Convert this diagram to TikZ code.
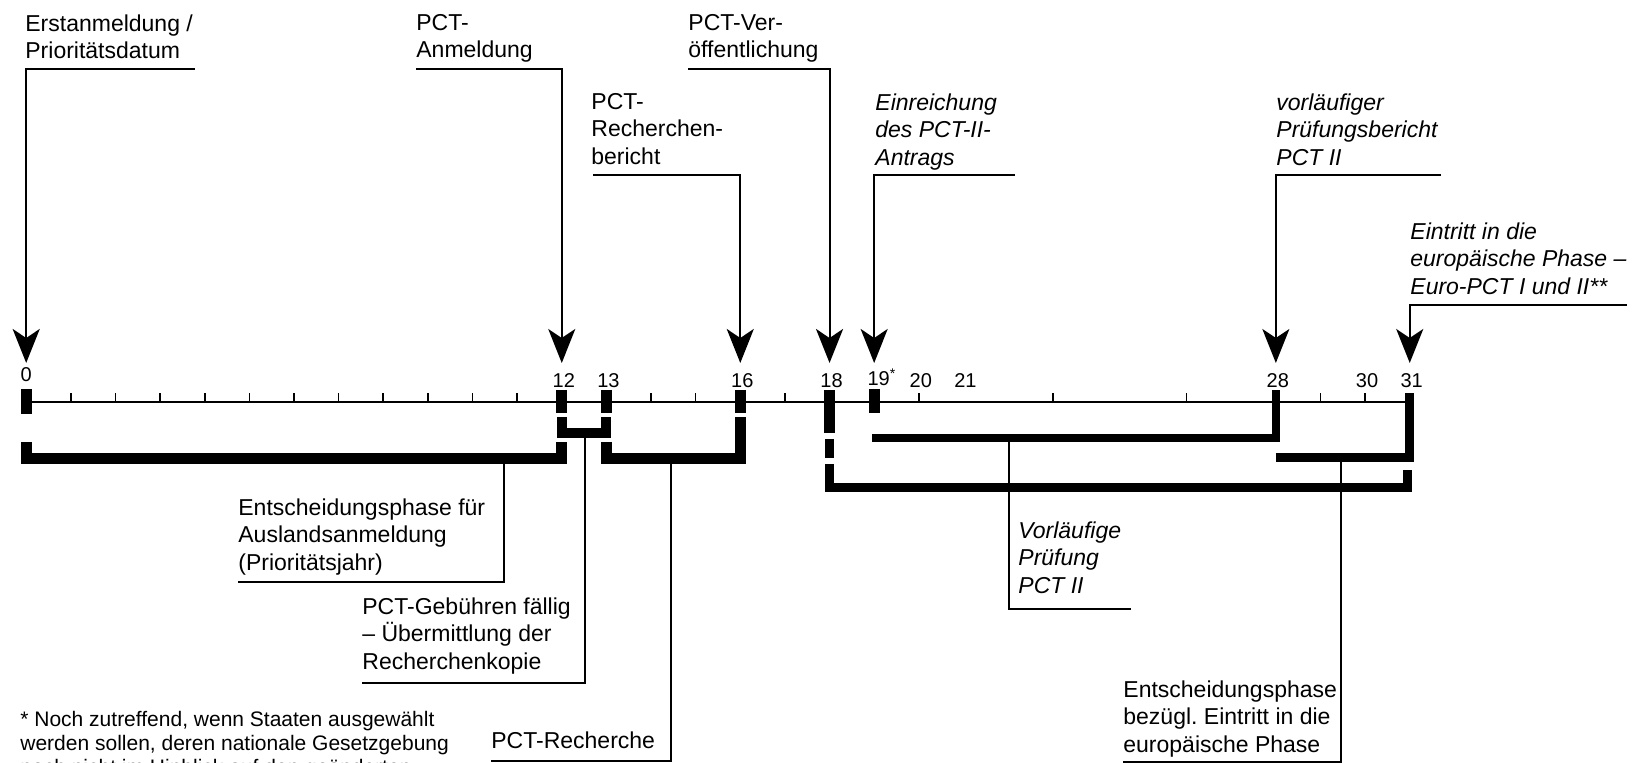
\documentclass[tikz,border=0pt]{standalone}
\usepackage{fontspec}
\setmainfont{Liberation Sans}
\usetikzlibrary{arrows.meta}

% x position of a month on the time axis
\newcommand\mon[1]{26.2+44.63*#1}

\tikzset{
  lead/.style={line width=1pt},
  pfeil/.style={lead, -{Stealth[length=17pt,width=13.5pt,inset=4.5pt]}},
  axis/.style={line width=1pt},
  tick/.style={line width=0.8pt},
  bar/.style={line width=5.5pt},
  bracket/.style={line width=5pt, line join=miter},
  lab/.style={inner sep=0pt, anchor=north west, align=left, font=\fontsize{11.5}{13.75}\selectfont},
  labit/.style={lab, font=\fontsize{11.5}{13.75}\selectfont\itshape},
  num/.style={inner sep=0pt, anchor=base, font=\fontsize{10}{11}\selectfont},
  note/.style={lab, font=\fontsize{10.5}{12}\selectfont},
}

\begin{document}
\begin{tikzpicture}[x=0.5pt, y=-0.5pt]
  \useasboundingbox (0,0) rectangle (1637,763);

  % time axis
  \foreach \m in {0,...,31}
    \coordinate (m\m) at ({\mon{\m}},401.7);
  \foreach \m in {0,12,16,18,19,28,31}
    \coordinate (a\m) at ({\mon{\m}},363);
  \draw[axis] (m0) -- (m31);
  \foreach \m in {1,...,11,14,15,17,20,...,27,29,30}
    \draw[tick] (m\m) -- ++(0,-9);
  \foreach \m/\t/\b in {0/389/414, 12/390/413, 13/390/413, 16/390/413, 18/390/433, 19/389/413}
    \draw[bar] ({\mon{\m}},\t) -- ({\mon{\m}},\b);

  % month numbers
  \node[num] (n0) at ({\mon{0}},382) {0};
  \foreach \m in {12,13,16,18,20,21,28,30,31}
    \node[num] (n\m) at ({\mon{\m}+2},388) {\m};
  \node[num, anchor=base west] (n19) at ({\mon{19}-7},386) {19\textsuperscript{*}};

  % brackets
  \draw[bracket, line width=5.5pt] ({\mon{0}},442) -- ({\mon{0}},458.5) -- ({\mon{12}},458.5) -- ({\mon{12}},442);
  \draw[bracket] ({\mon{12}},417) -- ({\mon{12}},433) -- ({\mon{13}},433) -- ({\mon{13}},417);
  \draw[bracket, line width=5.5pt] ({\mon{13}},442) -- ({\mon{13}},458.5) -- ({\mon{16}},458.5) -- ({\mon{16}},417);
  \draw[bracket, line width=4.25pt] ({\mon{19}-2},438) -- ({\mon{28}},438) -- ({\mon{28}},390);
  \draw[bracket, line width=4.5pt] ({\mon{28}},457.5) -- ({\mon{31}},457.5) -- ({\mon{31}},393);
  \draw[bracket, line width=4.5pt] ({\mon{18}},439) -- ({\mon{18}},458);
  \draw[bracket, line width=4.5pt] ({\mon{18}},464) -- ({\mon{18}},487.5) -- ({\mon{31}-2},487.5) -- ({\mon{31}-2},470);

  % labels above the axis
  \node[lab] (erst) at (25,14) {Erstanmeldung /\\Prioritätsdatum};
  \node[lab] (anm) at (416,14) {PCT-\\Anmeldung};
  \node[lab] (ver) at (688,14) {PCT-Ver-\\öffentlichung};
  \node[lab] (rb) at (591,93) {PCT-\\Recherchen-\\bericht};
  \node[labit] (ein) at (875,93) {Einreichung\\des PCT-II-\\Antrags};
  \node[labit] (vpb) at (1276,93) {vorläufiger\\Prüfungsbericht\\PCT II};
  \node[labit] (eu) at (1410,222) {Eintritt in die\\europäische Phase –\\Euro-PCT I und II**};

  \coordinate (u-erst) at (195,69.3);
  \coordinate (u-anm) at (416,69.3);
  \coordinate (u-ver) at (688,69.3);
  \coordinate (u-rb) at (593,175);
  \coordinate (u-ein) at (1015,175);
  \coordinate (u-vpb) at (1441,175);
  \coordinate (u-eu) at (1627,305);

  \draw[pfeil] (u-erst) -| (a0);
  \draw[pfeil] (u-anm) -| (a12);
  \draw[pfeil] (u-ver) -| (a18);
  \draw[pfeil] (u-rb) -| (a16);
  \draw[pfeil] (u-ein) -| (a19);
  \draw[pfeil] (u-vpb) -| (a28);
  \draw[pfeil] (u-eu) -| (a31);

  % labels below the axis
  \node[lab] (ent) at (238,498) {Entscheidungsphase für\\Auslandsanmeldung\\(Prioritätsjahr)};
  \node[lab] (geb) at (362,597) {PCT-Gebühren fällig\\– Übermittlung der\\Recherchenkopie};
  \node[lab] (rech) at (491,731) {PCT-Recherche};
  \node[labit] (vp) at (1018,521) {Vorläufige\\Prüfung\\PCT II};
  \node[lab] (entep) at (1123,680) {Entscheidungsphase\\bezügl.\ Eintritt in die\\europäische Phase};

  \coordinate (k1) at (504,464);
  \coordinate (k2) at (584.5,438);
  \coordinate (k3) at (671,464);
  \coordinate (k4) at (1009,442);
  \coordinate (k5) at (1341,462);
  \coordinate (u-ent) at (238,582);
  \coordinate (u-geb) at (361.6,683);
  \coordinate (u-rech) at (491,761);
  \coordinate (u-vp) at (1131,609);
  \coordinate (u-entep) at (1123,762);

  \draw[lead] (k1) |- (u-ent);
  \draw[lead] (k2) |- (u-geb);
  \draw[lead] (k3) |- (u-rech);
  \draw[lead] (k4) |- (u-vp);
  \draw[lead] (k5) |- (u-entep);

  % footnote
  \node[note] (fn) at (20,711) {* Noch zutreffend, wenn Staaten ausgewählt\\werden sollen, deren nationale Gesetzgebung\\noch nicht im Hinblick auf den geänderten};
\end{tikzpicture}
\end{document}
